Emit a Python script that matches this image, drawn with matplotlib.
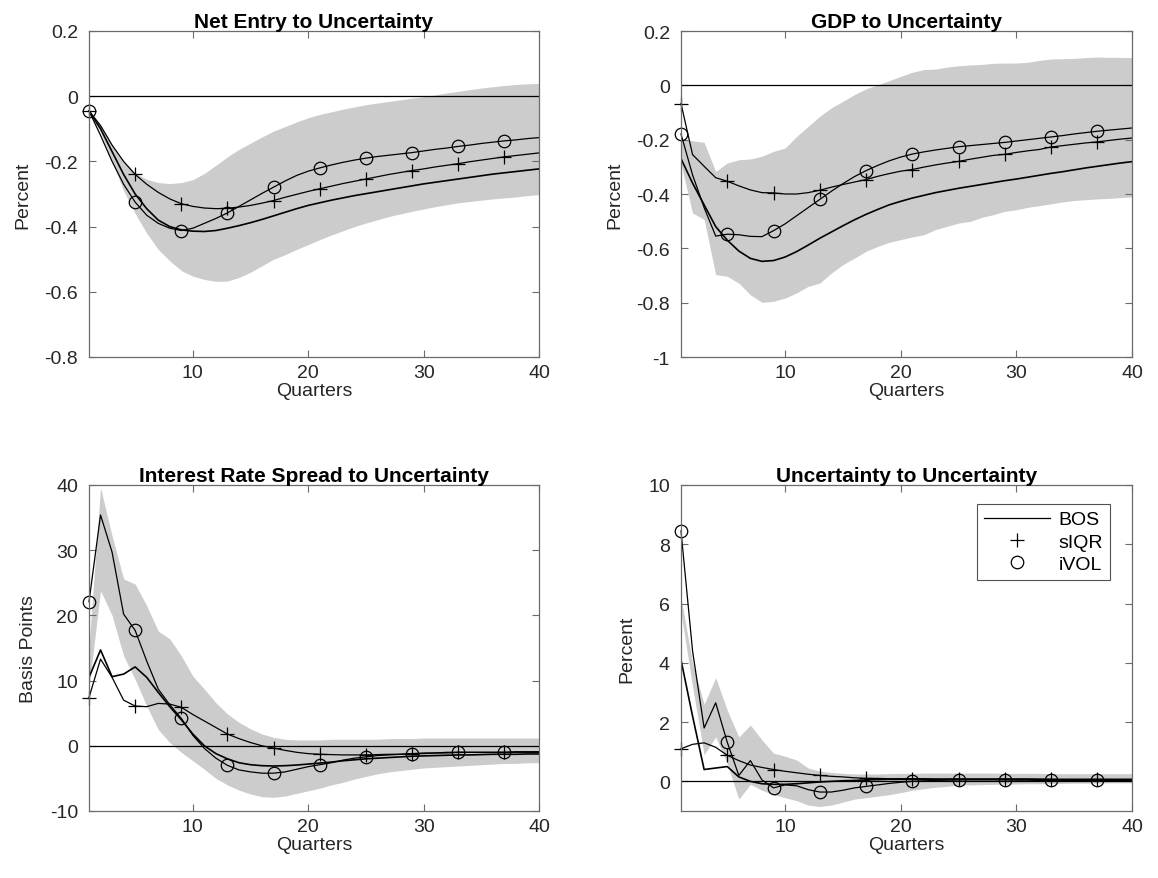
import numpy as np
import matplotlib
matplotlib.use("Agg")
import matplotlib.pyplot as plt
from matplotlib.lines import Line2D

plt.rcParams['font.family'] = ['Liberation Sans', 'DejaVu Sans']
plt.rcParams['axes.unicode_minus'] = False

quarters = np.arange(1, 41)

# ---- Net entry to uncertainty -------------------------------------------
entry_bos = [-0.045, -0.10, -0.17, -0.24, -0.30, -0.345, -0.38, -0.40, -0.41, -0.414,
             -0.415, -0.412, -0.405, -0.397, -0.388, -0.378, -0.367, -0.356, -0.345, -0.335,
             -0.327, -0.319, -0.312, -0.305, -0.299, -0.293, -0.287, -0.281, -0.275, -0.269,
             -0.264, -0.259, -0.254, -0.249, -0.244, -0.239, -0.235, -0.231, -0.227, -0.223]
entry_siqr = [-0.045, -0.09, -0.15, -0.20, -0.24, -0.27, -0.295, -0.315, -0.33, -0.338,
              -0.343, -0.345, -0.344, -0.340, -0.335, -0.328, -0.320, -0.310, -0.301, -0.292,
              -0.284, -0.276, -0.268, -0.261, -0.254, -0.247, -0.240, -0.234, -0.228, -0.223,
              -0.217, -0.212, -0.207, -0.201, -0.196, -0.191, -0.186, -0.182, -0.178, -0.174]
entry_ivol = [-0.045, -0.12, -0.20, -0.27, -0.325, -0.365, -0.39, -0.405, -0.412, -0.405,
              -0.39, -0.375, -0.358, -0.338, -0.318, -0.298, -0.279, -0.26, -0.243, -0.23,
              -0.22, -0.211, -0.203, -0.196, -0.190, -0.185, -0.181, -0.177, -0.173, -0.168,
              -0.163, -0.159, -0.154, -0.150, -0.145, -0.141, -0.137, -0.134, -0.130, -0.127]
entry_hi = [-0.04, -0.09, -0.15, -0.20, -0.235, -0.255, -0.265, -0.268, -0.265, -0.256,
            -0.237, -0.212, -0.186, -0.163, -0.144, -0.125, -0.107, -0.093, -0.079, -0.066,
            -0.056, -0.048, -0.040, -0.033, -0.026, -0.021, -0.016, -0.011, -0.006, -0.002,
            0.004, 0.010, 0.015, 0.020, 0.025, 0.029, 0.033, 0.036, 0.038, 0.039]
entry_lo = [-0.05, -0.11, -0.20, -0.29, -0.36, -0.42, -0.47, -0.505, -0.535, -0.552,
            -0.562, -0.568, -0.567, -0.556, -0.54, -0.52, -0.50, -0.486, -0.47, -0.455,
            -0.44, -0.426, -0.413, -0.40, -0.389, -0.379, -0.369, -0.361, -0.353, -0.346,
            -0.339, -0.333, -0.327, -0.323, -0.319, -0.315, -0.312, -0.309, -0.305, -0.302]

# ---- GDP to uncertainty --------------------------------------------------
gdp_bos = [-0.27, -0.36, -0.44, -0.52, -0.57, -0.61, -0.637, -0.648, -0.645, -0.632,
           -0.612, -0.588, -0.563, -0.54, -0.517, -0.495, -0.475, -0.457, -0.44, -0.427,
           -0.415, -0.405, -0.395, -0.387, -0.379, -0.372, -0.365, -0.358, -0.351, -0.345,
           -0.338, -0.331, -0.324, -0.318, -0.311, -0.304, -0.298, -0.292, -0.286, -0.281]
gdp_siqr = [-0.067, -0.255, -0.298, -0.34, -0.353, -0.37, -0.385, -0.395, -0.396, -0.40,
            -0.40, -0.395, -0.386, -0.375, -0.365, -0.356, -0.347, -0.335, -0.325, -0.316,
            -0.31, -0.301, -0.293, -0.286, -0.28, -0.272, -0.265, -0.258, -0.254, -0.247,
            -0.241, -0.236, -0.227, -0.222, -0.217, -0.212, -0.208, -0.203, -0.198, -0.194]
gdp_ivol = [-0.179, -0.33, -0.45, -0.555, -0.548, -0.55, -0.556, -0.557, -0.535, -0.51,
            -0.48, -0.45, -0.42, -0.39, -0.362, -0.336, -0.314, -0.295, -0.278, -0.264,
            -0.253, -0.245, -0.238, -0.232, -0.226, -0.222, -0.218, -0.214, -0.21, -0.205,
            -0.20, -0.195, -0.19, -0.185, -0.179, -0.174, -0.169, -0.165, -0.161, -0.157]
gdp_hi = [-0.20, -0.204, -0.21, -0.317, -0.286, -0.274, -0.271, -0.261, -0.243, -0.231,
          -0.188, -0.151, -0.114, -0.083, -0.059, -0.034, -0.013, 0.002, 0.017, 0.033,
          0.048, 0.058, 0.060, 0.067, 0.072, 0.075, 0.077, 0.081, 0.082, 0.082,
          0.085, 0.092, 0.097, 0.098, 0.099, 0.102, 0.104, 0.103, 0.103, 0.102]
gdp_lo = [-0.29, -0.47, -0.494, -0.697, -0.703, -0.728, -0.771, -0.799, -0.795, -0.783,
          -0.764, -0.74, -0.728, -0.691, -0.66, -0.636, -0.611, -0.593, -0.578, -0.568,
          -0.558, -0.55, -0.531, -0.519, -0.507, -0.501, -0.486, -0.476, -0.464, -0.458,
          -0.449, -0.443, -0.436, -0.429, -0.424, -0.421, -0.418, -0.416, -0.413, -0.411]

# ---- Interest rate spread to uncertainty (basis points) ------------------
spread_bos = [10.5, 14.7, 10.6, 11.0, 12.1, 10.5, 8.2, 6.0, 4.0, 1.8,
              0.0, -1.2, -2.0, -2.6, -2.9, -3.05, -3.1, -3.05, -2.95, -2.8,
              -2.65, -2.5, -2.3, -2.15, -2.0, -1.9, -1.8, -1.7, -1.6, -1.55,
              -1.5, -1.45, -1.4, -1.4, -1.35, -1.3, -1.3, -1.3, -1.25, -1.25]
spread_siqr = [7.4, 13.3, 10.5, 7.0, 6.1, 6.0, 6.5, 6.4, 5.9, 4.8,
               3.8, 2.8, 1.8, 1.1, 0.5, 0.0, -0.35, -0.7, -1.0, -1.2,
               -1.3, -1.35, -1.4, -1.4, -1.4, -1.35, -1.3, -1.3, -1.2, -1.2,
               -1.1, -1.1, -1.0, -1.0, -1.0, -1.0, -1.0, -1.0, -1.0, -1.0]
spread_ivol = [22.1, 35.4, 29.7, 20.2, 17.7, 13.0, 8.7, 6.3, 4.2, 1.6,
               -0.4, -1.9, -3.0, -3.7, -4.0, -4.2, -4.2, -4.0, -3.6, -3.2,
               -2.9, -2.6, -2.2, -1.9, -1.7, -1.5, -1.4, -1.3, -1.2, -1.1,
               -1.1, -1.0, -1.0, -1.0, -1.0, -1.0, -1.0, -0.9, -0.9, -0.9]
spread_hi = [15.3, 39.6, 32.2, 25.6, 24.8, 21.5, 17.6, 16.4, 13.8, 10.7,
             8.7, 6.6, 4.9, 3.6, 2.6, 1.8, 1.3, 1.0, 0.9, 0.9,
             0.9, 1.0, 1.0, 1.0, 1.0, 1.0, 1.1, 1.1, 1.1, 1.2,
             1.2, 1.2, 1.2, 1.2, 1.2, 1.2, 1.2, 1.2, 1.2, 1.2]
spread_lo = [9.0, 23.8, 20.0, 13.8, 10.2, 6.1, 2.5, 0.5, -1.0, -2.3,
             -3.6, -5.0, -6.0, -6.8, -7.4, -7.8, -7.9, -7.7, -7.3, -6.9,
             -6.5, -6.0, -5.6, -5.1, -4.7, -4.3, -4.0, -3.8, -3.6, -3.4,
             -3.3, -3.2, -3.1, -3.0, -2.9, -2.8, -2.7, -2.7, -2.6, -2.6]

# ---- Uncertainty to uncertainty -------------------------------------------
unc_bos = [4.1, 2.2, 0.4, 0.45, 0.5, 0.15, 0.0, -0.08, -0.1, -0.1,
           -0.08, -0.05, -0.02, 0.0, 0.02, 0.03, 0.05, 0.06, 0.07, 0.07,
           0.07, 0.07, 0.07, 0.07, 0.07, 0.07, 0.07, 0.07, 0.07, 0.07,
           0.07, 0.06, 0.06, 0.06, 0.06, 0.06, 0.06, 0.06, 0.06, 0.06]
unc_siqr = [1.1, 1.25, 1.3, 1.15, 0.88, 0.7, 0.55, 0.47, 0.4, 0.34,
            0.29, 0.24, 0.2, 0.17, 0.15, 0.12, 0.1, 0.1, 0.09, 0.09,
            0.09, 0.09, 0.08, 0.08, 0.08, 0.08, 0.08, 0.08, 0.08, 0.08,
            0.08, 0.08, 0.07, 0.07, 0.07, 0.07, 0.07, 0.07, 0.07, 0.07]
unc_ivol = [8.45, 4.4, 1.8, 2.65, 1.32, 0.2, 0.7, 0.05, -0.22, -0.12,
            -0.15, -0.28, -0.36, -0.36, -0.3, -0.22, -0.17, -0.12, -0.07, -0.03,
            0.0, 0.02, 0.03, 0.04, 0.05, 0.05, 0.05, 0.05, 0.05, 0.04,
            0.04, 0.03, 0.03, 0.03, 0.03, 0.03, 0.03, 0.03, 0.03, 0.03]
unc_hi = [6.2, 4.0, 2.6, 3.5, 2.4, 1.5, 1.9, 1.4, 0.95, 0.85,
          0.72, 0.45, 0.35, 0.3, 0.27, 0.25, 0.25, 0.25, 0.26, 0.27,
          0.27, 0.28, 0.28, 0.28, 0.28, 0.28, 0.28, 0.28, 0.27, 0.27,
          0.27, 0.27, 0.26, 0.26, 0.26, 0.26, 0.26, 0.26, 0.26, 0.26]
unc_lo = [5.7, 3.2, 0.9, 1.5, 0.6, -0.6, -0.1, -0.3, -0.45, -0.55,
          -0.65, -0.8, -0.85, -0.8, -0.7, -0.6, -0.55, -0.5, -0.45, -0.38,
          -0.3, -0.25, -0.2, -0.17, -0.13, -0.12, -0.11, -0.1, -0.09, -0.09,
          -0.08, -0.08, -0.07, -0.07, -0.06, -0.06, -0.06, -0.05, -0.05, -0.05]

panels = [
    ("Net Entry to Uncertainty", "Percent", (-0.8, 0.2), np.arange(-0.8, 0.21, 0.2),
     entry_bos, entry_siqr, entry_ivol, entry_lo, entry_hi),
    ("GDP to Uncertainty", "Percent", (-1.0, 0.2), np.arange(-1.0, 0.21, 0.2),
     gdp_bos, gdp_siqr, gdp_ivol, gdp_lo, gdp_hi),
    ("Interest Rate Spread to Uncertainty", "Basis Points", (-10, 40), np.arange(-10, 41, 10),
     spread_bos, spread_siqr, spread_ivol, spread_lo, spread_hi),
    ("Uncertainty to Uncertainty", "Percent", (-1, 10), np.arange(0, 11, 2),
     unc_bos, unc_siqr, unc_ivol, unc_lo, unc_hi),
]

W, H = 1158, 879
fig = plt.figure(figsize=(W / 100, H / 100), dpi=100)
# axes boxes in pixels: left, top, width, height
boxes = [(89, 32, 450, 326), (681, 32, 451, 326),
         (89, 486, 450, 326), (681, 486, 451, 326)]

axis_grey = "#6b6b6b"
text_grey = "#262626"
FS = 14

for (title, ylab, ylim, yticks, bos, siqr, ivol, lo, hi), (px, py, pw, ph) in zip(panels, boxes):
    ax = fig.add_axes([px / W, 1 - (py + ph) / H, pw / W, ph / H])
    ax.fill_between(quarters, lo, hi, color="#cccccc", lw=0)
    ax.axhline(0, color="k", lw=0.9)
    ax.plot(quarters, bos, "-", color="k", lw=1.2)
    ax.plot(quarters, siqr, "-", color="k", lw=0.9, marker="+", ms=10, mew=0.9,
            markevery=slice(0, None, 4), clip_on=False)
    ax.plot(quarters, ivol, "-", color="k", lw=0.9, marker="o", ms=9, mew=0.9,
            mfc="none", markevery=slice(0, None, 4), clip_on=False)
    ax.set_xlim(1, 40)
    ax.set_ylim(*ylim)
    ax.set_xticks([10, 20, 30, 40])
    ax.set_yticks(yticks)
    ax.set_yticklabels([f"{v + 0.0:g}" for v in np.round(yticks, 2) + 0.0])
    ax.tick_params(direction="in", top=True, right=True, length=5, width=0.8,
                   color=axis_grey, labelcolor=text_grey, labelsize=FS)
    ax.tick_params(axis="y", pad=8)
    ax.tick_params(axis="x", pad=5)
    for s in ax.spines.values():
        s.set_color(axis_grey)
        s.set_linewidth(0.9)
    ax.set_title(title, fontsize=15, fontweight="bold", pad=3)
    ax.set_xlabel("Quarters", fontsize=FS, color=text_grey, labelpad=1)
    ax.set_ylabel(ylab, fontsize=FS, color=text_grey, labelpad=9)
    last_ax = ax

handles = [Line2D([], [], color="k", lw=0.9),
           Line2D([], [], color="k", ls="none", marker="+", ms=10, mew=0.9),
           Line2D([], [], color="k", ls="none", marker="o", ms=9, mew=0.9, mfc="none")]
leg = last_ax.legend(handles, ["BOS", "sIQR", "iVOL"], loc="upper right",
                     bbox_to_anchor=(0.951, 0.942), fontsize=FS, frameon=True,
                     fancybox=False, edgecolor="#262626", handlelength=3.4,
                     borderpad=0.35, labelspacing=0.25, handletextpad=0.45,
                     borderaxespad=0)
leg.get_frame().set_linewidth(0.8)

fig.savefig("out.png", dpi=100)
